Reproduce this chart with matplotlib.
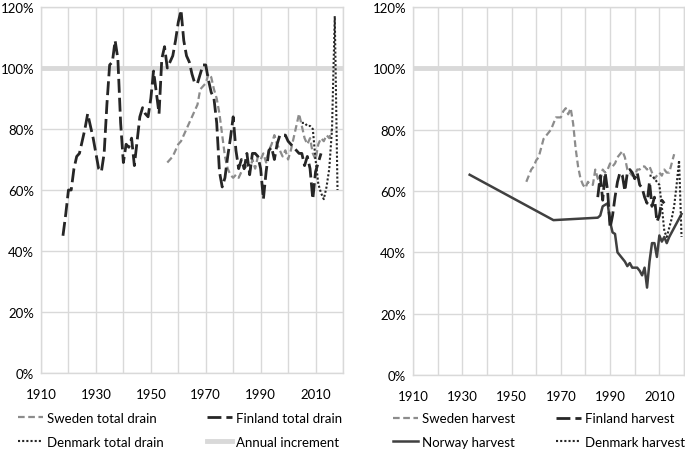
import numpy as np
import matplotlib
matplotlib.use("Agg")
import matplotlib.pyplot as plt

plt.rcParams['font.family'] = ['Lato', 'DejaVu Sans']

# --- left panel: total drain as share of annual increment (%) ---
fin_drain_years = list(range(1918, 2013))
fin_drain = [45, 52, 60, 60, 67, 71, 72, 76, 80, 85, 81, 77, 72, 67, 66, 72, 88, 101, 102, 109,
             103, 82, 69, 75, 74, 77, 68, 76, 84, 87, 85, 84, 90, 99, 92, 85, 103, 107, 100, 102,
             104, 109, 115, 119, 109, 104, 102, 98, 95, 95, 98, 101, 101, 96, 92, 90, 82, 66, 61, 64,
             71, 77, 84, 73, 67, 70, 67, 72, 65, 72, 72, 71, 67, 57, 66, 73, 74, 70, 75, 78,
             78, 78, 76, 75, 74, 73, 72, 72, 68, 71, 67, 57, 66, 69, 72]

swe_drain_years = list(range(1956, 2017))
swe_drain = [69, 70, 71, 73, 75, 76, 78, 80, 82, 84, 86, 88, 93, 94, 95, 98, 97, 93, 90, 85,
             78, 71, 67, 65, 64, 65, 64, 66, 67, 68, 66, 70, 67, 71, 70, 72, 69, 73, 75, 78,
             75, 73, 71, 73, 70, 73, 77, 81, 85, 81, 77, 75, 77, 72, 70, 75, 77, 76, 78, 77, 80]

den_drain_years = list(range(2005, 2019))
den_drain = [82, 82, 81, 81, 80, 70, 62, 59, 57, 61, 67, 80, 117, 60]

# --- right panel: harvest as share of annual increment (%) ---
swe_harv_years = list(range(1956, 2017))
swe_harv = [63, 65, 67, 68, 70, 71, 74, 77, 78, 79, 80, 82, 84, 84, 84, 86, 87, 85, 87, 82,
            74, 68, 64, 62, 61, 63, 62, 62, 67, 64, 63, 67, 66, 67, 69, 68, 69, 71, 72, 73,
            71, 67, 66, 65, 65, 67, 67, 68, 68, 67, 68, 66, 64, 65, 66, 65, 67, 66, 66, 69, 72]

fin_harv_years = list(range(1985, 2013))
fin_harv = [58, 65, 57, 66, 60, 48, 52, 58, 63, 66, 65, 60, 66, 67, 66, 64, 66, 62, 61, 58,
            56, 63, 55, 58, 50, 52, 57, 56]

nor_harv_years = [1933, 1967] + list(range(1985, 2020))
nor_harv = [65.3, 50.5, 51.3, 52, 55, 55.5, 56, 50, 46.5, 46, 40, 39, 38, 37, 35.5, 36.5, 35,
            35, 35, 34, 32.5, 35, 28.5, 37, 43, 43, 38.5, 45.5, 43.5, 45, 43, 45, 46.5, 48,
            49.5, 51, 52.5]

den_harv_years = list(range(2006, 2020))
den_harv = [65, 65, 64, 63, 62, 55, 47, 45, 48, 51, 55, 62, 70, 45]

increment_level = 100

grid_col = '#d9d9d9'
dark = '#262626'
gray = '#8c8c8c'
fs = 9.5

fig = plt.figure(figsize=(6.85, 4.52), dpi=100)
ax1 = fig.add_axes([41 / 685, 78 / 452, 302 / 685, 366 / 452])
ax2 = fig.add_axes([413 / 685, 76 / 452, 271 / 685, 368 / 452])


def style_axes(ax):
    ax.set_xlim(1910, 2020)
    ax.set_ylim(0, 120)
    xt = list(range(1910, 2021, 10))
    ax.set_xticks(xt)
    ax.set_xticklabels([str(y) if y % 20 == 10 else '' for y in xt])
    yt = list(range(0, 121, 20))
    ax.set_yticks(yt)
    ax.set_yticklabels([f'{v}%' for v in yt])
    ax.grid(True, color=grid_col, linewidth=1)
    ax.set_axisbelow(True)
    ax.tick_params(length=0, labelsize=fs, colors='#000000')
    ax.tick_params(axis='y', pad=5)
    ax.tick_params(axis='x', pad=11)
    for s in ax.spines.values():
        s.set_color(grid_col)
        s.set_linewidth(1)


style_axes(ax1)
style_axes(ax2)

leg_kw = dict(ncol=2, loc='upper left', frameon=False, fontsize=fs, handlelength=1.9,
              handletextpad=0.3, labelspacing=0.9, borderpad=0, borderaxespad=0)

# left panel
ax1.plot(swe_drain_years, swe_drain, color=gray, lw=1.6, dashes=(3, 1.6), label='Sweden total drain')
ax1.plot(den_drain_years, den_drain, color=dark, lw=1.5, linestyle=(0, (1, 1)), label='Denmark total drain')
ax1.plot(fin_drain_years, fin_drain, color=dark, lw=2.0, dashes=(5, 1.8), label='Finland total drain')
ax1.axhline(increment_level, color=grid_col, lw=3.5, zorder=1, label='Annual increment')

ax1.legend(bbox_to_anchor=(-0.076, -0.106), columnspacing=3.3, **leg_kw)

# right panel
ax2.plot(swe_harv_years, swe_harv, color=gray, lw=1.6, dashes=(3, 1.6), label='Sweden harvest')
ax2.plot(nor_harv_years, nor_harv, color='#404040', lw=1.8, label='Norway harvest')
ax2.plot(fin_harv_years, fin_harv, color=dark, lw=2.0, dashes=(5, 1.8), label='Finland harvest')
ax2.plot(den_harv_years, den_harv, color=dark, lw=1.5, linestyle=(0, (1, 1)), label='Denmark harvest')
ax2.axhline(increment_level, color=grid_col, lw=3.5, zorder=1)

ax2.legend(bbox_to_anchor=(-0.074, -0.101), columnspacing=3.1, **leg_kw)

fig.savefig('out.png', dpi=100)
